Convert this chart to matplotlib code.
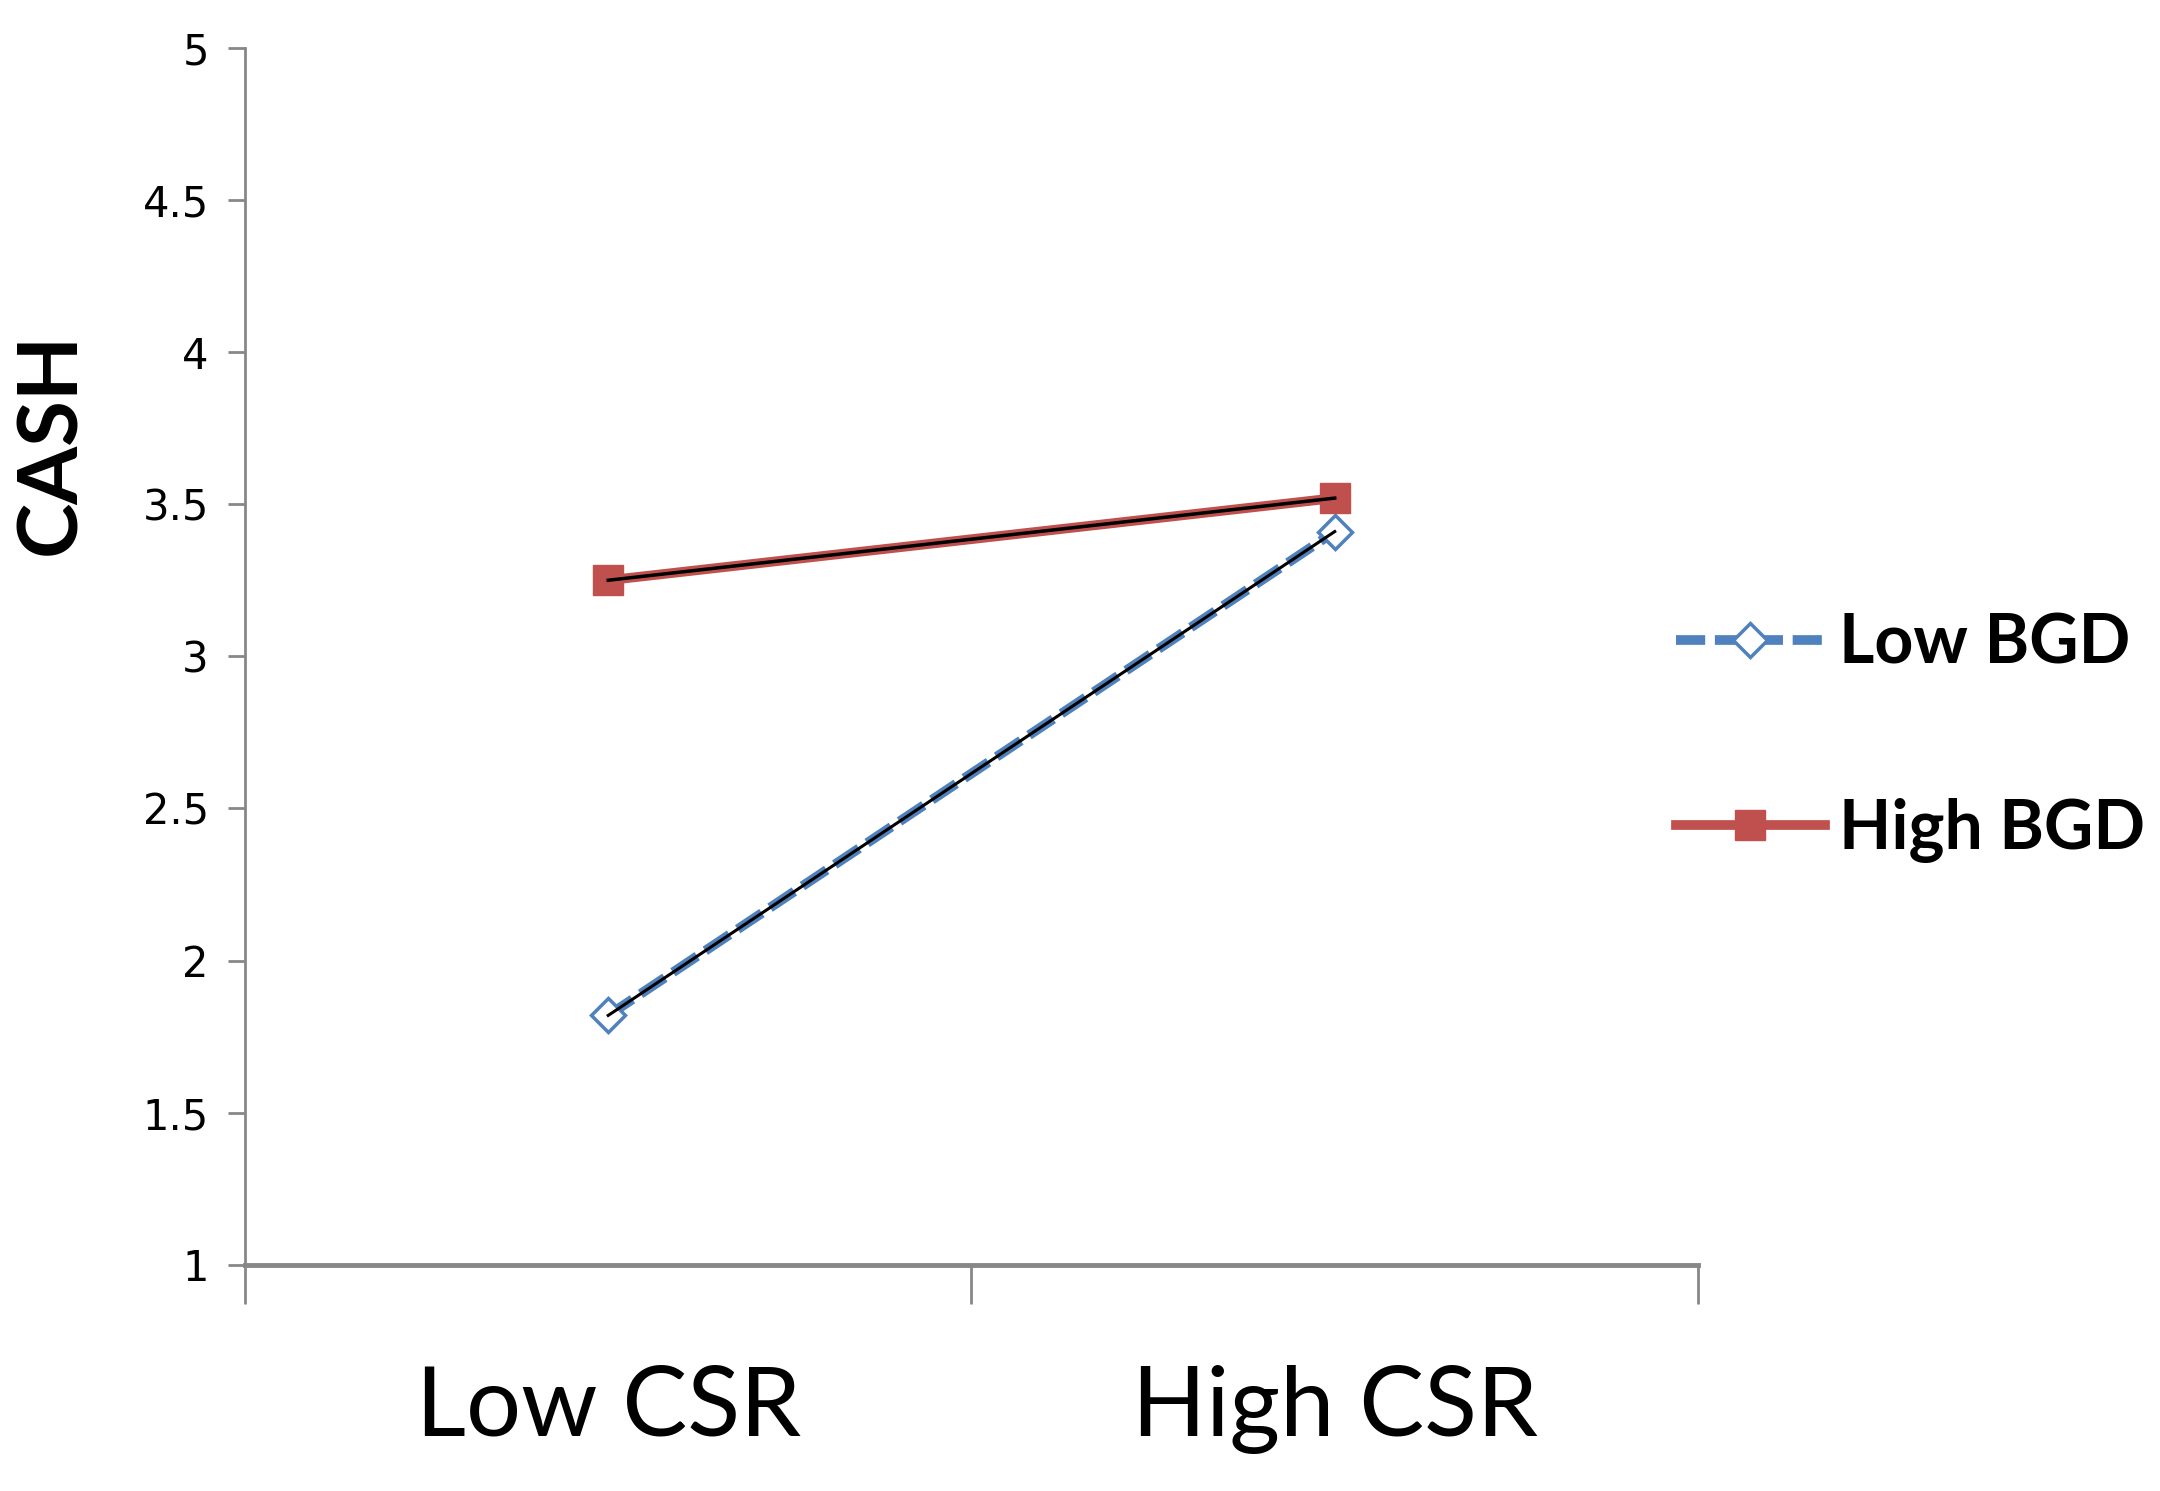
import matplotlib.pyplot as plt

# data
categories = ['Low CSR', 'High CSR']
low_bgd = [1.82, 3.41]
high_bgd = [3.25, 3.52]
y_ticks = [1, 1.5, 2, 2.5, 3, 3.5, 4, 4.5, 5]
y_labels = ['1', '1.5', '2', '2.5', '3', '3.5', '4', '4.5', '5']

blue = '#4F81BD'
red = '#C0504D'
axis_grey = '#878787'

fig = plt.figure(figsize=(21.6, 14.91), dpi=100)
ax = fig.add_axes([0.1134, 0.1516, 0.6727, 0.8164])

x = list(range(len(categories)))

# main series (these are what the legend shows)
ax.plot(x, low_bgd, color=blue, lw=7, ls=(0, (3.0, 1.0)), marker='D',
        ms=17, mfc='white', mec=blue, mew=2.5, label='Low BGD', zorder=3)
ax.plot(x, high_bgd, color=red, lw=7, marker='s', ms=22,
        mfc=red, mec=red, label='High BGD', zorder=3)
# thin black lines drawn over both series
ax.plot(x, low_bgd, color='black', lw=2.2, zorder=4)
ax.plot(x, high_bgd, color='black', lw=2.5, zorder=4)

ax.set_xlim(-0.5, 1.5)
ax.set_ylim(1, 5)

# category labels centred, tick marks on the boundaries
ax.set_xticks([-0.5, 0.5, 1.5])
ax.set_xticklabels([])
ax.set_xticks(x, minor=True)
ax.set_xticklabels(categories, minor=True, fontsize=70, family='Lato')
ax.tick_params(axis='x', which='major', direction='out', length=28,
               width=2, color=axis_grey)
ax.tick_params(axis='x', which='minor', length=0, pad=72)

ax.set_yticks(y_ticks)
ax.set_yticklabels(y_labels, fontsize=30, family='DejaVu Sans')
ax.tick_params(axis='y', direction='out', length=12, width=2,
               color=axis_grey, pad=14)

for side in ['top', 'right']:
    ax.spines[side].set_visible(False)
ax.spines['left'].set_color(axis_grey)
ax.spines['left'].set_linewidth(2)
ax.spines['bottom'].set_color(axis_grey)
ax.spines['bottom'].set_linewidth(3.5)

ax.set_ylabel('CASH', fontsize=60, fontweight='bold', family='Lato')
ax.yaxis.set_label_coords(-0.107, 0.675)

handles, labels = ax.get_legend_handles_labels()
fig.legend(handles, labels, loc='center left', bbox_to_anchor=(0.76, 0.505),
           frameon=False, handlelength=2.2, labelspacing=1.8, borderpad=0,
           handletextpad=0.2, prop={'family': 'Lato', 'weight': 'bold', 'size': 49})

fig.savefig('out.png', dpi=100)
